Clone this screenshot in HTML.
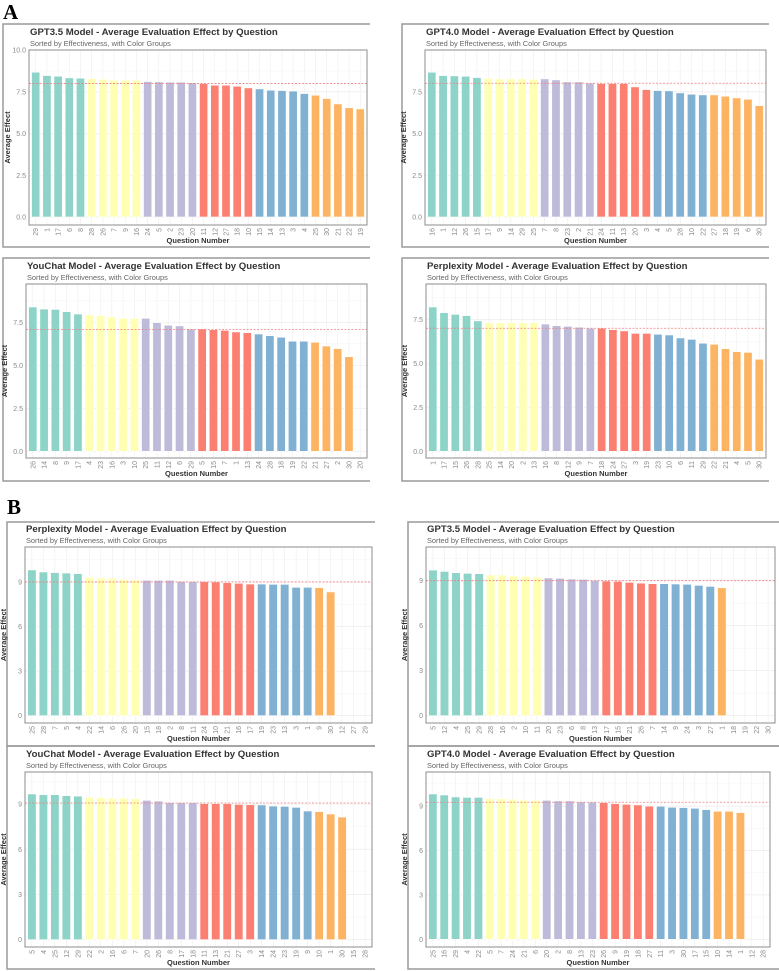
<!DOCTYPE html>
<html><head><meta charset="utf-8">
<style>
body{margin:0;background:#fff;}
svg{display:block;font-family:"Liberation Sans",sans-serif;}
</style></head>
<body>
<svg id="fig" width="779" height="971" viewBox="0 0 779 971" xmlns="http://www.w3.org/2000/svg">
<text x="3" y="19" font-family="Liberation Serif" font-weight="bold" font-size="21" fill="#000">A</text>
<text x="7" y="514" font-family="Liberation Serif" font-weight="bold" font-size="21" fill="#000">B</text>
</svg>
<script>
const a1Labels=["29","1","17","6","8","28","26","7","9","16","24","5","2","23","20","11","12","27","18","10","15","14","13","3","4","25","30","21","22","19"];
const a1Values=[8.68,8.48,8.44,8.34,8.32,8.3,8.26,8.2,8.2,8.2,8.12,8.1,8.08,8.08,8.05,8.0,7.9,7.9,7.84,7.74,7.68,7.6,7.58,7.55,7.4,7.3,7.1,6.78,6.55,6.48];
const a2Labels=["16","1","12","26","15","17","9","14","29","25","7","8","23","2","21","24","11","13","20","3","4","5","28","10","22","27","18","19","6","30"];
const a2Values=[8.68,8.48,8.46,8.44,8.36,8.32,8.28,8.28,8.28,8.26,8.28,8.22,8.1,8.1,8.02,8.0,8.0,8.0,7.8,7.64,7.58,7.56,7.44,7.36,7.32,7.32,7.24,7.14,7.06,6.68];
const a3Labels=["26","14","8","9","17","4","23","16","3","10","25","11","12","6","29","5","15","7","1","13","24","28","18","19","22","21","27","2","30","20"];
const a3Values=[8.39,8.27,8.25,8.12,7.98,7.93,7.89,7.81,7.73,7.73,7.73,7.48,7.33,7.29,7.11,7.11,7.07,7.03,6.94,6.9,6.82,6.72,6.63,6.4,6.4,6.34,6.12,5.97,5.5];
const a4Labels=["1","17","15","26","28","25","14","20","2","13","16","8","12","9","7","18","24","27","3","19","23","10","6","11","29","22","21","4","5","30"];
const a4Values=[8.2,7.88,7.78,7.71,7.41,7.31,7.31,7.31,7.31,7.31,7.23,7.14,7.1,7.05,6.99,6.99,6.91,6.84,6.7,6.7,6.65,6.61,6.44,6.36,6.14,6.08,5.83,5.66,5.62,5.23];
const b1Labels=["25","28","7","5","4","22","14","6","26","20","15","18","2","8","11","24","10","21","16","17","19","23","13","3","1","9","30","12","27","29"];
const b1Values=[9.81,9.67,9.63,9.6,9.56,9.31,9.27,9.25,9.18,9.14,9.11,9.11,9.11,9.04,9.02,9.02,9.0,8.95,8.91,8.86,8.86,8.84,8.84,8.64,8.64,8.62,8.33];
const b2Labels=["5","12","4","25","29","28","16","2","10","11","20","23","6","8","13","17","15","21","26","7","14","9","24","3","27","1","18","19","22","30"];
const b2Values=[9.71,9.62,9.53,9.49,9.47,9.38,9.38,9.31,9.29,9.24,9.18,9.16,9.11,9.09,9.02,8.98,8.96,8.89,8.84,8.8,8.8,8.78,8.76,8.69,8.62,8.53];
const b3Labels=["5","4","25","12","29","22","2","16","6","7","20","26","8","17","18","11","13","21","27","3","14","24","23","19","9","10","1","30","15","28"];
const b3Values=[9.67,9.62,9.62,9.56,9.53,9.45,9.42,9.38,9.38,9.36,9.25,9.2,9.09,9.09,9.09,9.03,9.03,9.03,8.98,8.96,8.94,8.87,8.85,8.78,8.54,8.5,8.34,8.14];
const b4Labels=["25","16","29","4","22","5","7","24","21","6","20","2","8","13","23","26","9","19","18","27","11","3","30","17","15","10","14","1","12","28"];
const b4Values=[9.82,9.75,9.62,9.59,9.59,9.5,9.5,9.46,9.41,9.39,9.39,9.35,9.35,9.28,9.26,9.23,9.17,9.12,9.08,9.0,8.99,8.92,8.9,8.85,8.76,8.65,8.65,8.56];
const refLines=[8.0,8.02,7.09,6.99,9.0,9.0,9.07,9.26];
const aTicks=[0,2.5,5,7.5,10];
const aTicksNo10=[0,2.5,5,7.5];
const bTicks=[0,3,6,9];
const titles=["GPT3.5 Model","GPT4.0 Model","YouChat Model","Perplexity Model","Perplexity Model","GPT3.5 Model","YouChat Model","GPT4.0 Model"];
const colors=["#8DD3C7","#FFFFB3","#BEBADA","#FB8072","#80B1D3","#FDB462"];

const NS="http://www.w3.org/2000/svg";
const svg=document.getElementById('fig');
function mk(tag,attrs,parent){const e=document.createElementNS(NS,tag);for(const k in attrs)e.setAttribute(k,attrs[k]);(parent||svg).appendChild(e);return e;}

const panels=[
 {L:a1Labels,V:a1Values,T:aTicks,fmt:1,px0:29,px1:367,py0:50,py1:225,zero:217,unit:16.68,fx0:3,fx1:370,ft:24,fb:247},
 {L:a2Labels,V:a2Values,T:aTicksNo10,fmt:1,px0:425,px1:766,py0:50,py1:225,zero:217,unit:16.68,fx0:402,fx1:769,ft:24,fb:247},
 {L:a3Labels,V:a3Values,T:aTicksNo10,fmt:1,px0:26,px1:367,py0:284,py1:458,zero:451.3,unit:17.2,fx0:3,fx1:370,ft:258,fb:481},
 {L:a4Labels,V:a4Values,T:aTicksNo10,fmt:1,px0:426,px1:766,py0:284,py1:458,zero:451.3,unit:17.6,fx0:402,fx1:769,ft:258,fb:481},
 {L:b1Labels,V:b1Values,T:bTicks,fmt:0,px0:25,px1:372,py0:547,py1:723,zero:715.7,unit:14.86,fx0:7,fx1:375,ft:522,fb:746},
 {L:b2Labels,V:b2Values,T:bTicks,fmt:0,px0:426,px1:775,py0:547,py1:723,zero:715.7,unit:15.0,fx0:408,fx1:779,ft:522,fb:746},
 {L:b3Labels,V:b3Values,T:bTicks,fmt:0,px0:25,px1:372,py0:772,py1:947,zero:939.7,unit:15.07,fx0:7,fx1:375,ft:746,fb:969},
 {L:b4Labels,V:b4Values,T:bTicks,fmt:0,px0:426,px1:770,py0:772,py1:947,zero:939.3,unit:14.8,fx0:408,fx1:779,ft:746,fb:969}
];

panels.forEach((p,pi)=>{
  const g=mk('g',{});
  
  
  const n=p.L.length;
  const step=(p.px1-p.px0)/(n-1+1.2);
  const xs=i=>p.px0+(i+0.6)*step;
  const ys=v=>p.zero-v*p.unit;
  const fr=mk('path',{d:`M${p.fx1} ${p.ft}H${p.fx0}V${p.fb}H${p.fx1}`,fill:'none',stroke:'#9a9a9a','stroke-width':1.5},g);
  
  
  const t=mk('text',{x:p.px0+1,y:p.py0-15,'font-size':9.6,'font-weight':'bold',fill:'#333'},g);
  t.textContent=titles[pi]+" - Average Evaluation Effect by Question";
  
  
  const st=mk('text',{x:p.px0+1,y:p.py0-4,'font-size':7.4,fill:'#666'},g);
  st.textContent="Sorted by Effectiveness, with Color Groups";
  
  
  for(let i=0;i<n;i++){
    const gl=mk('line',{x1:xs(i),x2:xs(i),y1:p.py0,y2:p.py1,stroke:'#eeeeee','stroke-width':0.6},g);
    
    
  }
  const tstep=p.T[1]-p.T[0];
  for(let v=tstep/2; ys(v)>p.py0; v+=tstep){
    const ml=mk('line',{x1:p.px0,x2:p.px1,y1:ys(v),y2:ys(v),stroke:'#f4f4f4','stroke-width':0.5},g);
    
    
  }
  p.T.forEach(v=>{
    const y=ys(v); if(y<p.py0-1) return;
    const gl=mk('line',{x1:p.px0,x2:p.px1,y1:y,y2:y,stroke:'#ebebeb','stroke-width':0.7},g);
    
    
    const tl=mk('text',{x:p.px0-3,y:y+2.5,'font-size':7,fill:'#8a8a8a','text-anchor':'end'},g);
    tl.textContent=p.fmt?v.toFixed(1):String(v);
    
    
  });
  p.V.forEach((v,i)=>{
    const b=mk('rect',{x:xs(i)-step*0.37,width:step*0.74,y:ys(v),height:v*p.unit,fill:colors[Math.min(5,Math.floor(i/5))],stroke:'#ffffff','stroke-width':0.6},g);
    
    
  });
  const rl=mk('line',{x1:p.px0,x2:p.px1,y1:ys(refLines[pi]),y2:ys(refLines[pi]),stroke:'#f08080','stroke-width':0.8,'stroke-dasharray':'2,1.5'},g);
  
  
  const pb=mk('rect',{x:p.px0,y:p.py0,width:p.px1-p.px0,height:p.py1-p.py0,fill:'none',stroke:'#8c8c8c','stroke-width':1},g);
  
  
  p.L.forEach((l,i)=>{
    const x=xs(i),y=p.py1+3;
    const xl=mk('text',{x:x,y:y,'font-size':7,fill:'#8a8a8a','text-anchor':'end',transform:`rotate(-90 ${x} ${y}) translate(0 2.5)`},g);
    xl.textContent=l;
    
    
  });
  const xt=mk('text',{x:(p.px0+p.px1)/2,y:p.py1+18,'font-size':7.5,'font-weight':'bold',fill:'#333','text-anchor':'middle'},g);
  xt.textContent="Question Number";
  
  
  const cy=(p.py0+p.py1)/2, cx=p.px0-19;
  const yt=mk('text',{x:cx,y:cy,'font-size':7.5,'font-weight':'bold',fill:'#333','text-anchor':'middle',transform:`rotate(-90 ${cx} ${cy})`},g);
  yt.textContent="Average Effect";
  
  
});
</script>
</body></html>
